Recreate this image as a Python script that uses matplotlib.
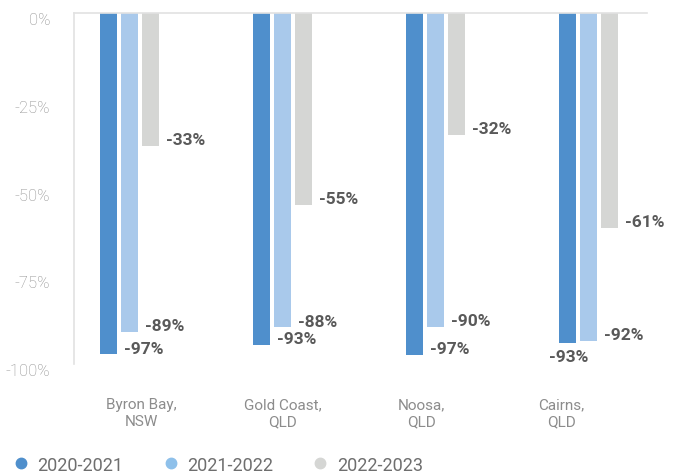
import numpy as np
import matplotlib
matplotlib.use("Agg")
import matplotlib.pyplot as plt
import matplotlib.transforms as mtransforms
from matplotlib.lines import Line2D

# data
cities = ["Byron Bay,\nNSW", "Gold Coast,\nQLD", "Noosa,\nQLD", "Cairns,\nQLD"]
seasons = ["2020-2021", "2021-2022", "2022-2023"]
drop_2020 = [-97.2, -94.5, -97.4, -93.9]
drop_2021 = [-90.8, -89.6, -89.4, -93.4]
drop_2022 = [-37.8, -54.6, -34.7, -61.2]
labels_2020 = ["-97%", "-93%", "-97%", "-93%"]
labels_2021 = ["-89%", "-88%", "-90%", "-92%"]
labels_2022 = ["-33%", "-55%", "-32%", "-61%"]
yticks = [0, -25, -50, -75, -100]

colors = ["#4F8FCC", "#A9C9EB", "#D5D6D4"]
legend_colors = ["#4F8FCC", "#8EC0EA", "#D5D6D4"]
label_color = "#595959"
tick_color = "#8C8C8C"

fig = plt.figure(figsize=(6.83, 4.77), dpi=100)
ax = fig.add_axes([0.1083, 0.2348, 0.839, 0.7358])

x = np.arange(len(cities))
offsets = [-0.137, 0.0, 0.137]
width = 0.111
series = [drop_2020, drop_2021, drop_2022]
texts = [labels_2020, labels_2021, labels_2022]

for k in range(3):
    bars = ax.bar(x + offsets[k], series[k], width, color=colors[k], zorder=2)
    for i, b in enumerate(bars):
        right = b.get_x() + b.get_width()
        end = b.get_height()
        if k == 0 and i == 3:
            # Cairns label sits under its bar
            ax.annotate(texts[k][i], (b.get_x() + b.get_width() / 2, end),
                        xytext=(1, -14), textcoords="offset pixels",
                        ha="center", va="center", fontsize=12.5,
                        fontweight="bold", color=label_color, family="Roboto")
        else:
            ax.annotate(texts[k][i], (right, end), xytext=(7, 6),
                        textcoords="offset pixels", ha="left", va="center",
                        fontsize=12.5, fontweight="bold", color=label_color,
                        family="Roboto")

ax.set_xlim(-0.363, 3.382)
ax.set_ylim(-100, 0)

ax.set_yticks(yticks)
ax.set_yticklabels([f"{t}%" for t in yticks], family="Roboto",
                   fontweight="light", fontsize=12, color=tick_color)
ax.tick_params(axis="y", length=0, pad=17)
shift = mtransforms.ScaledTranslation(0, -5 / 100, fig.dpi_scale_trans)
for lab in ax.get_yticklabels():
    lab.set_transform(lab.get_transform() + shift)

# category labels sit a little off the group centres, as in the source
label_shift = [0.08, 0.0, -0.095, -0.18]
ax.set_xticks(x + np.array(label_shift))
ax.set_xticklabels(cities, family="Roboto", fontsize=11,
                   color=tick_color, linespacing=1.25)
ax.tick_params(axis="x", length=0, pad=24)

for s in ["right", "bottom"]:
    ax.spines[s].set_visible(False)
ax.spines["top"].set_color("#E2E2E2")
ax.spines["left"].set_color("#E2E2E2")
ax.spines["top"].set_linewidth(1.2)
ax.spines["left"].set_linewidth(1.2)

handles = [Line2D([], [], marker="o", linestyle="", markersize=7.5,
                  markerfacecolor=c, markeredgecolor=c) for c in legend_colors]
fig.legend(handles, seasons, loc="center left", bbox_to_anchor=(0.017, 0.024),
           ncol=3, frameon=False, prop={"family": "Roboto", "size": 13},
           labelcolor="#6E6E6E", handlelength=1.0, handletextpad=0.44,
           columnspacing=2.1, borderaxespad=0, borderpad=0)

fig.savefig("out.png", dpi=100)
